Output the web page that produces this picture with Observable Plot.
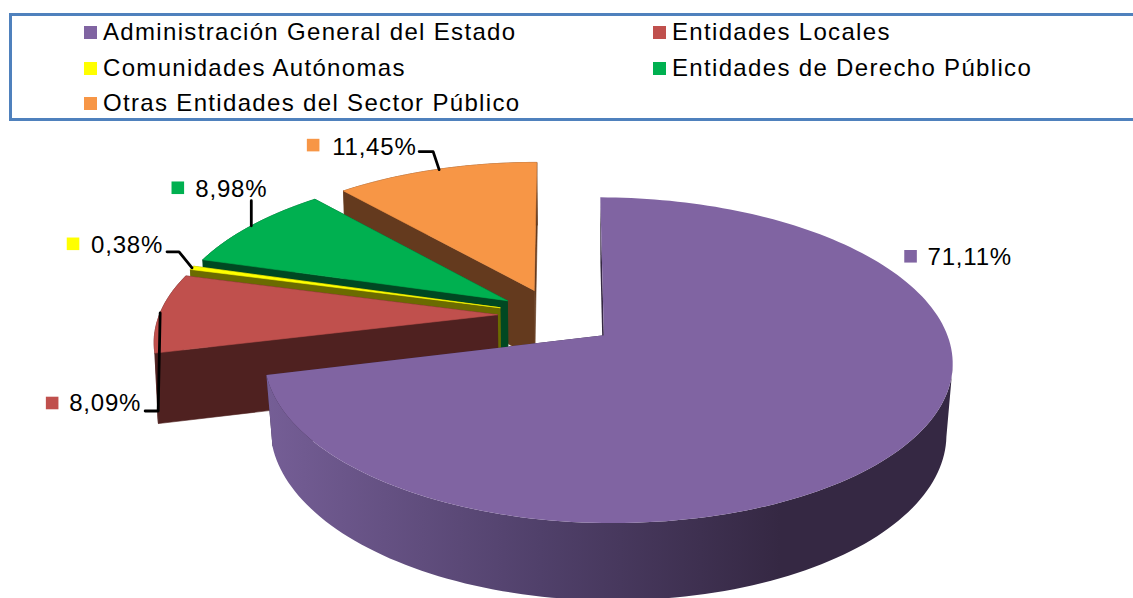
<!DOCTYPE html>
<html lang="es">
<head>
<meta charset="utf-8">
<script src="https://cdn.jsdelivr.net/npm/d3@7"></script>
<script src="https://cdn.jsdelivr.net/npm/@observablehq/plot@0.6"></script>
<style>
html,body{margin:0;padding:0;background:#fff;width:1133px;height:598px;overflow:hidden}
#legend{position:relative;height:122px;width:1133px;overflow:hidden;font-family:"Liberation Sans",Arial,sans-serif;font-size:24px;letter-spacing:1.33px;color:#000}
#box{position:absolute;left:9px;top:13px;width:1140px;height:102px;border:3px solid #4F81BD}
.it{position:absolute;white-space:nowrap;line-height:26px;height:26px}
.sw{position:absolute;width:13px;height:13px;top:7px;left:-19px}
#chart svg{display:block}
</style>
</head>
<body>
<div id="legend"><div id="box"></div></div>
<div id="chart"></div>
<script>
// Data
const categories = ["Administración General del Estado","Entidades Locales","Comunidades Autónomas","Entidades de Derecho Público","Otras Entidades del Sector Público"];
const values = [71.11, 8.09, 0.38, 8.98, 11.45];
const colors = ["#8064A2","#C0504D","#FFFF00","#00B050","#F79646"];
const wallColors = ["#352843","#4F2120","#6B6B00","#004822","#643A1E"];

// Legend layout (left of text, top of row)
const legendPos = [[103,19],[672,19],[103,55],[672,55],[103,90]];
legendPos.forEach(([l,t],i)=>{
  const d=document.createElement("div");d.className="it";d.style.left=l+"px";d.style.top=t+"px";
  d.textContent=categories[i];
  const s=document.createElement("span");s.className="sw";s.style.background=colors[i];d.appendChild(s);
  document.getElementById("legend").appendChild(d);
});

// Pie geometry
const Cx=556, Cy=318, rx=338, ry=154, k=0.15, explode=0.175;
const nudge=[[0,0],[0,-3.5],[0,-3.5],[0,-3.5],[-2,-3.5]];   // per-slice screen fine-tuning
const squeeze=[0.98,1,1,1,0.985];                            // horizontal fit left of the apex
const shrink=[0.982,0.992,0.992,0.992,0.992];                // depth foreshortening of the bottom face
const turn=0.5*Math.PI/180;
const rot=a=>a+turn*(1-a/(2*Math.PI));
const total=d3.sum(values);
const cum=d3.cumsum(values);
const slices=values.map((val,i)=>{
  const a0=(i?cum[i-1]:0)/total*2*Math.PI, a1=cum[i]/total*2*Math.PI, mid=(a0+a1)/2;
  const su=explode*Math.sin(mid), sv=-explode*Math.cos(mid);
  const project=(u,v)=>{const w=1-k*v;return [Cx+rx*u/w+nudge[i][0],Cy+ry*v/w+nudge[i][1]];};
  const apex=project(su,sv);
  const fit=p=>p[0]<apex[0]?[apex[0]+(p[0]-apex[0])*squeeze[i],p[1]]:p;
  const rim=a=>fit(project(su+Math.sin(rot(a)),sv-Math.cos(rot(a))));
  return {i,val,a0,a1,mid,rim,apex};
});
const lower=(p,s)=>{const x0=slices[0].apex[0];return [x0+(p[0]-x0)*s,p[1]+68+(p[1]-290)*0.04];};
const arc=(sl,n)=>d3.range(n+1).map(j=>sl.rim(sl.a0+(sl.a1-sl.a0)*j/n));

// Polygons in painter's order: far slices first; the largest slice gets its own layers
const farPolys=[], bigWall=[], bigTop=[], bigEnd=[];
let nextId=0;
const push=(list,pts,fill)=>{const id=nextId++;[...pts,pts[0]].forEach(p=>list.push({id,x:p[0],y:p[1],fill}));};
[4,3,2,1,0].forEach(i=>{
  const sl=slices[i], s=shrink[i];
  const n=Math.max(2,Math.round((sl.a1-sl.a0)/(Math.PI/120)));
  const a=arc(sl,n);
  const endRim=sl.rim(sl.a1), startRim=sl.rim(sl.a0);
  const lowerArc=a.map(p=>lower(p,s)).reverse();
  if(i===0){
    // only the part of the wall facing the viewer: from the rightmost rim point to the tip
    const front=a.slice(d3.greatest(a.map((p,j)=>[p[0],j]),d=>d[0])[1]);
    const frontLower=front.map(p=>lower(p,s)).reverse();
    push(bigEnd,[sl.apex,endRim,lower(endRim,s),lower(sl.apex,s)],wallColors[i]);
    push(bigEnd,[sl.apex,startRim,lower(startRim,s),lower(sl.apex,s)],wallColors[i]);
    push(bigWall,[...front,...frontLower],"wall");
    push(bigTop,[sl.apex,...a],colors[i]);
  } else {
    push(farPolys,[sl.apex,endRim,lower(endRim,s),lower(sl.apex,s)],wallColors[i]);
    push(farPolys,[...a,...lowerArc],wallColors[i]);
    push(farPolys,[sl.apex,startRim,lower(startRim,s),lower(sl.apex,s)],wallColors[i]);
    push(farPolys,[sl.apex,...a],colors[i]);
  }
});

// Labels: offsets from the rim at each slice's middle angle
const labelOffsets=[
  {swatch:[4,-188],text:[21,-187],},
  {swatch:[-108,90],text:[-91,90],leader:[[0,0],[-2,98],[-15,98]]},
  {swatch:[-119,-24],text:[-101,-22],leader:[[0,0],[-13,-16],[-25,-16]]},
  {swatch:[-73.5,-38],text:[-56,-36],leader:[[0,0],[0,-25]]},
  {swatch:[-123,-24.5],text:[-104,-22.5],leader:[[3,0],[-3,-18],[-17,-18]]}
];
const anchors=slices.map(s=>s.rim(s.mid));
const swatches=labelOffsets.map((o,i)=>({x:anchors[i][0]+o.swatch[0],y:anchors[i][1]+o.swatch[1],fill:colors[i]}));
const labels=labelOffsets.map((o,i)=>({x:anchors[i][0]+o.text[0],y:anchors[i][1]+o.text[1],t:values[i].toFixed(2).replace(".",",")+"%"}));
const leaders=labelOffsets.flatMap((o,i)=>(o.leader||[]).map(d=>({id:i,x:anchors[i][0]+d[0],y:anchors[i][1]+d[1]})));

// Horizontal shading of the largest slice's side wall
const wallGradient=()=>{
  const ns="http://www.w3.org/2000/svg";
  const defs=document.createElementNS(ns,"defs");
  const g=document.createElementNS(ns,"linearGradient");
  g.setAttribute("id","wallGrad");g.setAttribute("gradientUnits","userSpaceOnUse");
  g.setAttribute("x1",266);g.setAttribute("x2",780);g.setAttribute("y1",0);g.setAttribute("y2",0);
  [[0,"#755e96"],[0.533,"#50406a"],[1,"#352843"]].forEach(([o,c])=>{
    const st=document.createElementNS(ns,"stop");st.setAttribute("offset",o);st.setAttribute("stop-color",c);g.appendChild(st);
  });
  defs.appendChild(g);return defs;
};

const plot=Plot.plot({
  width:1133,height:476,margin:0,
  x:{axis:null,domain:[0,1133],range:[0,1133]},
  y:{axis:null,domain:[122,598],range:[0,476]},
  color:{type:"identity"},
  style:{background:"#fff",letterSpacing:"0.8px"},
  marks:[
    wallGradient,
    Plot.line(farPolys,{x:"x",y:"y",z:"id",fill:"fill",stroke:"fill",strokeWidth:0.6,curve:"linear"}),
    Plot.line(bigEnd,{x:"x",y:"y",z:"id",fill:"fill",curve:"linear"}),
    Plot.line(bigWall,{x:"x",y:"y",z:"id",fill:"url(#wallGrad)",curve:"linear"}),
    Plot.line(bigTop,{x:"x",y:"y",z:"id",fill:"fill",curve:"linear"}),
    Plot.line(leaders,{x:"x",y:"y",z:"id",stroke:"#000",strokeWidth:2.8,curve:"linear"}),
    Plot.dot(swatches,{x:"x",y:"y",fill:"fill",symbol:"square",r:7.1}),
    Plot.text(labels,{x:"x",y:"y",text:"t",textAnchor:"start",fontSize:24,fontFamily:"Liberation Sans, Arial, sans-serif",fill:"#000"})
  ]
});
document.getElementById("chart").appendChild(plot);
</script>
</body>
</html>
